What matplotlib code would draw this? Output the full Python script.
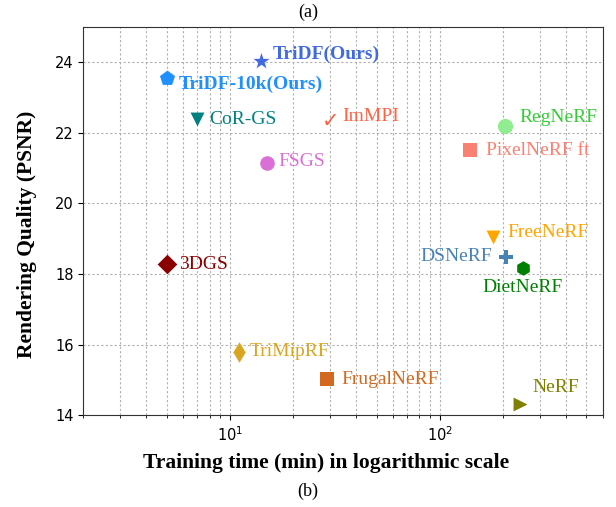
import numpy as np
import matplotlib
matplotlib.use("Agg")
import matplotlib.pyplot as plt

# data
methods = ["TriDF(Ours)", "TriDF-10k(Ours)", "CoR-GS", "ImMPI", "FSGS", "RegNeRF",
           "PixelNeRF ft", "FreeNeRF", "DSNeRF", "DietNeRF", "3DGS", "TriMipRF",
           "FrugalNeRF", "NeRF"]
train_time = [14, 5, 7, 30, 15, 205, 140, 180, 207, 248, 5, 11, 29, 240]
psnr = [24.04, 23.55, 22.4, 22.4, 21.15, 22.2, 21.5, 19.05, 18.48, 18.18, 18.28, 15.8, 15.04, 14.32]

# styling per method
markers = ["*", "p", "v", "$\\checkmark$", "o", "o", "s", "v", "P", "h", "D", "d", "s", ">"]
colors = ["royalblue", "dodgerblue", "teal", "tomato", "orchid", "lightgreen", "salmon",
          "orange", "steelblue", "green", "darkred", "goldenrod", "chocolate", "olive"]
text_colors = ["royalblue", "dodgerblue", "teal", "tomato", "orchid", "limegreen", "salmon",
               "orange", "steelblue", "green", "darkred", "goldenrod", "chocolate", "olive"]
sizes = [150, 130, 100, 65, 110, 120, 100, 100, 110, 110, 100, 110, 100, 100]
offsets = [(12, 6), (12, -6), (12, -1), (12, 2), (12, 1), (14, 8), (16, 0), (14, 4),
           (-14, 1), (0, -20), (12, 0), (11, 0), (14, -1), (13, 16)]
ha = ["left"] * 8 + ["right", "center"] + ["left"] * 4
bold = [True, True] + [False] * 12

fig = plt.figure(figsize=(6.16, 5.07), dpi=100)
ax = fig.add_axes([0.135, 0.181, 0.844, 0.766])

for i in range(len(methods)):
    ax.scatter(train_time[i], psnr[i], marker=markers[i], color=colors[i], s=sizes[i],
               zorder=3, linewidths=0)
    ax.annotate(methods[i], (train_time[i], psnr[i]), xytext=offsets[i],
                textcoords="offset pixels", ha=ha[i], va="center",
                color=text_colors[i], fontsize=14, family="Liberation Serif",
                fontweight="bold" if bold[i] else "normal")

ax.set_xscale("log")
ax.set_xlim(2, 600)
ax.set_ylim(14, 25)
ax.set_yticks([14, 16, 18, 20, 22, 24])
ax.grid(True, which="both", linestyle=(0, (2, 2)), color="#b0b0b0", linewidth=0.8)
ax.tick_params(labelsize=10.5)
for sp in ax.spines.values():
    sp.set_color("#333333")

ax.set_xlabel("Training time (min) in logarithmic scale", fontsize=15.5, fontweight="bold",
              family="Liberation Serif")
ax.set_ylabel("Rendering Quality (PSNR)", fontsize=15.5, fontweight="bold",
              family="Liberation Serif")
ax.xaxis.set_label_coords(0.467, -0.098)
ax.yaxis.set_label_coords(-0.088, 0.466)

fig.text(0.5, 0.976, "(a)", ha="center", va="center", fontsize=13, family="Liberation Serif")
fig.text(0.5, 0.03, "(b)", ha="center", va="center", fontsize=13, family="Liberation Serif")

fig.savefig("out.png", dpi=100)
